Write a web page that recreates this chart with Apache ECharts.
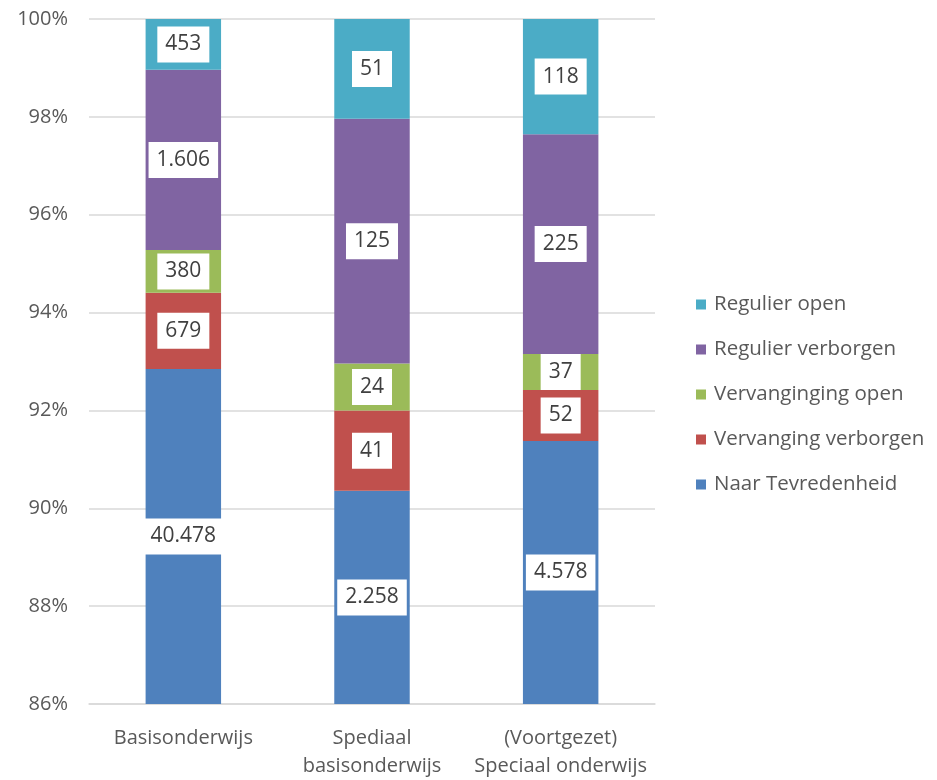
<!DOCTYPE html>
<html><head><meta charset="utf-8">
<script src="https://cdn.jsdelivr.net/npm/echarts@6/dist/echarts.min.js"></script>
<style>html,body{margin:0;padding:0;background:#fff}#c{width:937px;height:780px}</style>
</head><body><div id="c"></div>
<script>
const categories = ['Basisonderwijs', 'Spediaal\nbasisonderwijs', '(Voortgezet)\nSpeciaal onderwijs'];
const seriesNames = ['Naar Tevredenheid', 'Vervanging verborgen', 'Vervanginging open', 'Regulier verborgen', 'Regulier open'];
const naarTevredenheid = [40478, 2258, 4578];
const vervangingVerborgen = [679, 41, 52];
const vervangingingOpen = [380, 24, 37];
const regulierVerborgen = [1606, 125, 225];
const regulierOpen = [453, 51, 118];
const yTicks = [86, 88, 90, 92, 94, 96, 98, 100];
const colors = ['#4F81BD', '#C0504D', '#9BBB59', '#8064A2', '#4BACC6'];

const raw = [naarTevredenheid, vervangingVerborgen, vervangingingOpen, regulierVerborgen, regulierOpen];
const totals = categories.map((_, i) => raw.reduce((s, a) => s + a[i], 0));
const fmt = v => String(v).replace(/\B(?=(\d{3})+(?!\d))/g, '.');
const FONT = 'Open Sans';

const series = raw.map((arr, k) => ({
  name: seriesNames[k],
  type: 'bar',
  stack: 'all',
  barWidth: '40%',
  itemStyle: { color: colors[k] },
  data: arr.map((v, i) => ({ value: v / totals[i] * 100, raw: v })),
  label: {
    show: true,
    position: 'inside',
    formatter: p => fmt(p.data.raw),
    backgroundColor: '#fff',
    color: '#404040',
    fontFamily: FONT,
    fontSize: 21,
    padding: [8, 8, 7, 8]
  }
}));

const chart = echarts.init(document.getElementById('c'));
chart.setOption({
  animation: false,
  textStyle: { fontFamily: FONT },
  grid: { left: 89, right: 282, top: 19, bottom: 72 },
  legend: {
    orient: 'vertical',
    left: 691,
    top: 289,
    data: seriesNames.slice().reverse(),
    icon: 'rect',
    itemWidth: 10,
    itemHeight: 10,
    itemGap: 24,
    textStyle: { fontFamily: FONT, fontSize: 20.5, color: '#595959', padding: [0, 0, 0, 3] }
  },
  xAxis: {
    type: 'category',
    data: categories,
    axisLine: { lineStyle: { color: '#d9d9d9', width: 1.5 } },
    axisTick: { show: false },
    axisLabel: { interval: 0, color: '#595959', fontSize: 20, fontFamily: FONT, margin: 20, lineHeight: 28 }
  },
  yAxis: {
    type: 'value',
    min: yTicks[0],
    max: yTicks[yTicks.length - 1],
    interval: 2,
    axisLine: { show: false },
    axisTick: { show: false },
    splitLine: { lineStyle: { color: '#d9d9d9', width: 1.5 } },
    axisLabel: { color: '#595959', fontSize: 20, fontFamily: FONT, margin: 21, formatter: '{value}%' }
  },
  series: series
});
</script></body></html>
